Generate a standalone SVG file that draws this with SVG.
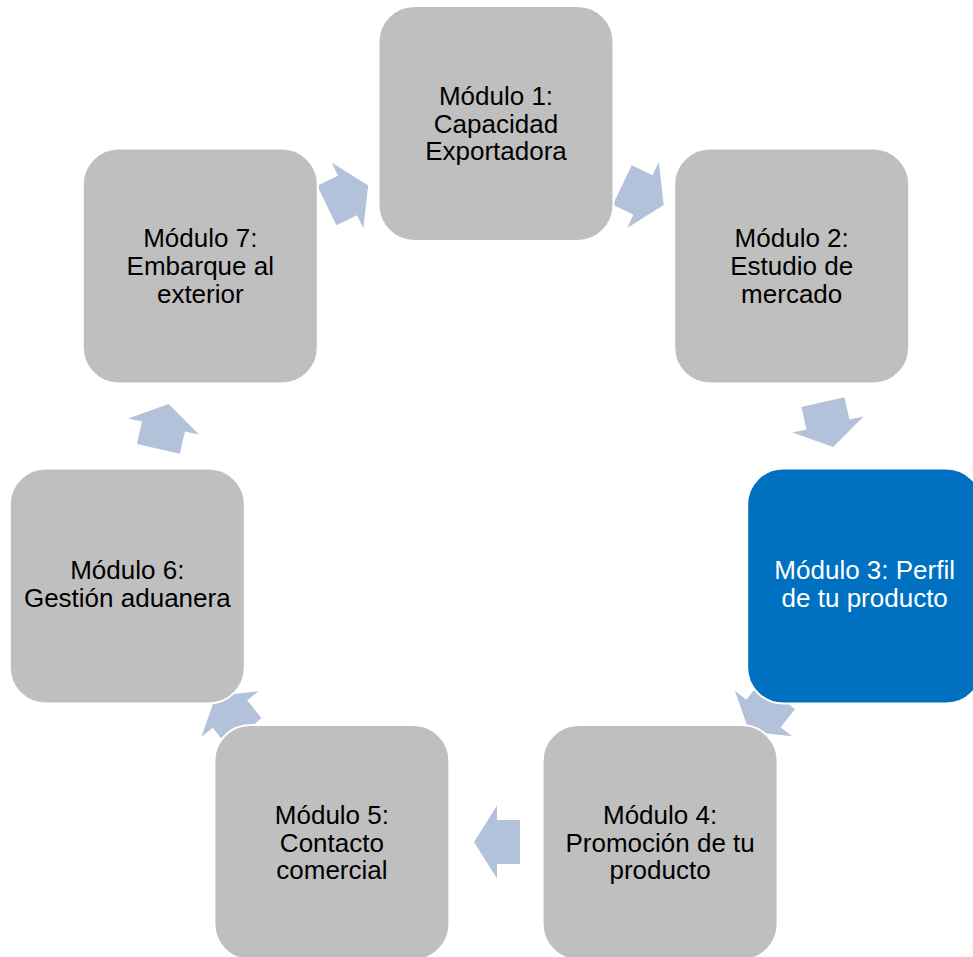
<svg xmlns="http://www.w3.org/2000/svg" xmlns:xlink="http://www.w3.org/1999/xlink" width="973" height="957" viewBox="0 0 973 957">
  <style>
    .box { fill: #BFBFBF; stroke: #FFFFFF; stroke-width: 2; }
    .box.hl { fill: #0070C0; }
    .arrow { fill: #B3C2DB; }
    .lbl { font-family: "Liberation Sans", Arial, sans-serif; font-size: 26px; fill: #000000; text-anchor: middle; }
    .lbl.w { fill: #FFFFFF; }
  </style>
  <defs>
    <polygon id="arr" points="-23,-22 0,-22 0,-36.5 23,0 0,36.5 0,22 -23,22"/>
  </defs>
  <rect width="973" height="957" fill="#FFFFFF"/>
  <g id="connectors" class="arrow">
    <use xlink:href="#arr" href="#arr" transform="translate(347.5,195.5) rotate(-25.71)"/>
    <use xlink:href="#arr" href="#arr" transform="translate(643,195) rotate(25.71)"/>
    <use xlink:href="#arr" href="#arr" transform="translate(828,424.5) rotate(77.14)"/>
    <use xlink:href="#arr" href="#arr" transform="translate(763.5,713.5) rotate(128.57)"/>
    <use xlink:href="#arr" href="#arr" transform="translate(497,842) rotate(180)"/>
    <use xlink:href="#arr" href="#arr" transform="translate(230,714) rotate(231.43)"/>
    <use xlink:href="#arr" href="#arr" transform="translate(163.5,426.5) rotate(282.86)"/>
  </g>
  <g id="m1">
    <rect class="box" x="378.5" y="6" width="235" height="235" rx="36"/>
    <text class="lbl"><tspan x="496" y="104.5">Módulo 1:</tspan><tspan x="496" y="132.5">Capacidad</tspan><tspan x="496" y="160">Exportadora</tspan></text>
  </g>
  <g id="m2">
    <rect class="box" x="674.2" y="148.4" width="235" height="235" rx="36"/>
    <text class="lbl"><tspan x="791.7" y="247">Módulo 2:</tspan><tspan x="791.7" y="275">Estudio de</tspan><tspan x="791.7" y="302.5">mercado</tspan></text>
  </g>
  <g id="m3">
    <rect class="box hl" x="747.2" y="468.4" width="235" height="235" rx="36"/>
    <text class="lbl w"><tspan x="864.7" y="579">Módulo 3: Perfil</tspan><tspan x="864.7" y="607">de tu producto</tspan></text>
  </g>
  <g id="m4">
    <rect class="box" x="542.6" y="725" width="235" height="235" rx="36"/>
    <text class="lbl"><tspan x="660.1" y="823.5">Módulo 4:</tspan><tspan x="660.1" y="851.5">Promoción de tu</tspan><tspan x="660.1" y="879">producto</tspan></text>
  </g>
  <g id="m5">
    <rect class="box" x="214.4" y="725" width="235" height="235" rx="36"/>
    <text class="lbl"><tspan x="331.9" y="823.5">Módulo 5:</tspan><tspan x="331.9" y="851.5">Contacto</tspan><tspan x="331.9" y="879">comercial</tspan></text>
  </g>
  <g id="m6">
    <rect class="box" x="9.8" y="468.4" width="235" height="235" rx="36"/>
    <text class="lbl"><tspan x="127.3" y="579">Módulo 6:</tspan><tspan x="127.3" y="607">Gestión aduanera</tspan></text>
  </g>
  <g id="m7">
    <rect class="box" x="82.8" y="148.4" width="235" height="235" rx="36"/>
    <text class="lbl"><tspan x="200.3" y="247">Módulo 7:</tspan><tspan x="200.3" y="275">Embarque al</tspan><tspan x="200.3" y="302.5">exterior</tspan></text>
  </g>
</svg>
